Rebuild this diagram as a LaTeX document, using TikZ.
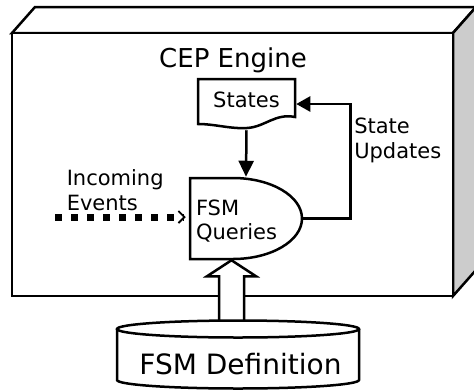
\documentclass[tikz,border=0pt]{standalone}
\usepackage{fontspec}
\setmainfont{DejaVu Sans}
\usetikzlibrary{arrows.meta,calc}
\begin{document}
\begin{tikzpicture}[x=1pt,y=-1pt,line width=2.5pt,line join=miter,
  lbl/.style={font=\fontsize{21}{24.5}\selectfont,inner sep=0pt,align=left},
  shapebox/.style={draw=none,inner sep=0pt},
  solidhead/.style={-{Triangle[length=16pt,width=15pt]}}]
\useasboundingbox (0,0) rectangle (474,389);
% 3D engine box
\draw[fill=white] (12,33) -- (35,7) -- (476,7) -- (453,33) -- cycle;
\draw[fill=black!20] (453,33) -- (476,7) -- (476,270) -- (453,296) -- cycle;
\draw[fill=white,line width=2.8pt] (12,33) rectangle (453,296);
\node[font=\fontsize{26}{30}\selectfont,anchor=base] (cep) at (233,67.7) {CEP Engine};
% States (document shape)
\draw[fill=white] (198,79) -- (295,79) -- (295,117)
  .. controls (275,113) and (265,127) .. (247,128)
  .. controls (230,129) and (215,124) .. (198,124) -- cycle;
\node[shapebox,minimum width=97pt,minimum height=50pt,
  label={[lbl,yshift=4pt]center:States}] (st) at (246.5,104) {};
% FSM Queries (delay shape)
\draw[fill=white] (233,178) -- (190,178) -- (190,259) -- (233,259)
  .. controls (271.1,259) and (302,240.9) .. (302,218.5)
  .. controls (302,196.1) and (271.1,178) .. (233,178) -- cycle;
\node[shapebox,minimum width=112pt,minimum height=81pt,
  label={[lbl,anchor=west,xshift=6pt,yshift=-2.5pt]west:FSM\\Queries}] (fsm) at (246,218.5) {};
% connectors
\draw[solidhead] (st.south) -- (fsm.north);
\draw[-{Triangle[length=14pt,width=15pt]}] (fsm.east) -- ++(47,0) |- (st.east);
\node[lbl,anchor=west] (su) at (353,140.5) {State\\Updates};
\node[lbl,anchor=west] (inc) at (65.5,190) {Incoming\\Events};
\coordinate (src) at (55,217);
\coordinate (dst) at ($(fsm.west)+(-3,-1.5)$);
\draw[line width=7pt,dash pattern=on 6.5pt off 9.5pt,
  -{Straight Barb[length=6pt,width=12pt,line width'=1.8pt]}] (src) -- (dst);
% hollow arrow from definition to queries
\coordinate (tip) at ($(fsm.south)+(-14.5,0)$);
\draw[fill=white] ($(tip)+(-12.5,62)$) -- ($(tip)+(-12.5,16)$) -- ($(tip)+(-24.5,16)$)
  -- (tip) -- ($(tip)+(24.5,16)$) -- ($(tip)+(12.5,16)$) -- ($(tip)+(12.5,62)$);
% FSM Definition cylinder
\draw[fill=white] (117,329) -- (117,380) arc[start angle=180,end angle=360,x radius=121pt,y radius=8.5pt]
  -- (359,329);
\draw[fill=white] (238,329) ellipse [x radius=121pt,y radius=8.5pt];
\node[font=\fontsize{28}{32}\selectfont,inner sep=0pt] (db) at (240.5,364) {FSM Definition};
\end{tikzpicture}
\end{document}
